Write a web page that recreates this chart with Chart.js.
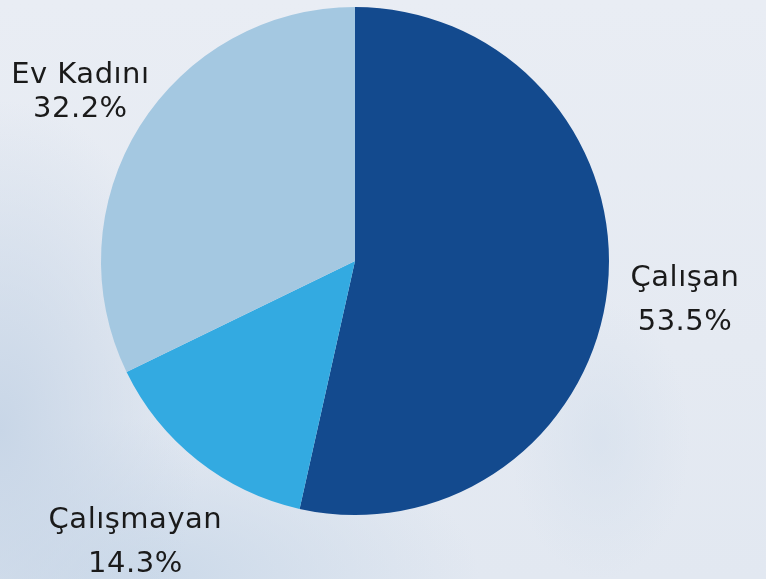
<!DOCTYPE html>
<html>
<head>
<meta charset="utf-8">
<script src="https://cdn.jsdelivr.net/npm/chart.js@4"></script>
<style>
  html, body { margin: 0; padding: 0; }
  body {
    width: 766px; height: 579px; overflow: hidden;
    background-color: #e6ebf3;
    background-image:
      radial-gradient(ellipse 200px 330px at 0px 430px, rgba(200, 214, 231, 1), rgba(200, 214, 231, 0) 100%),
      radial-gradient(ellipse 330px 160px at 150px 579px, rgba(203, 217, 233, 1), rgba(203, 217, 233, 0) 100%),
      radial-gradient(ellipse 90px 140px at 600px 440px, rgba(212, 223, 236, 0.6), rgba(212, 223, 236, 0) 100%),
      linear-gradient(180deg, #e9edf4 0%, #e5eaf2 60%, #e2e8f1 100%);
  }
  #wrap { position: absolute; left: 0; top: 0; width: 766px; height: 579px; }
</style>
</head>
<body>
<div id="wrap"><canvas id="pie" width="766" height="579"></canvas></div>
<script>
// categories and values (percent)
const categories = ['Çalışan', 'Çalışmayan', 'Ev Kadını'];
const values = [53.5, 14.3, 32.2];
const colors = ['#134a8e', '#33aae1', '#a4c8e1'];

// distance of the label block centre beyond the slice edge, and line gap
const labelDist = [78, 100, 70];
const labelGap = [44, 44, 34];

const outsideLabels = {
  id: 'outsideLabels',
  afterDatasetsDraw(chart) {
    const ctx = chart.ctx;
    const meta = chart.getDatasetMeta(0);
    const total = values.reduce((a, b) => a + b, 0);
    ctx.save();
    ctx.font = '29px "DejaVu Sans"';
    ctx.letterSpacing = '0.5px';
    ctx.fillStyle = '#1a1a1a';
    ctx.textAlign = 'center';
    ctx.textBaseline = 'alphabetic';
    meta.data.forEach((arc, i) => {
      const p = arc.getProps(['x', 'y', 'startAngle', 'endAngle', 'outerRadius'], true);
      const mid = (p.startAngle + p.endAngle) / 2;
      const r = p.outerRadius + labelDist[i];
      const cx = p.x + Math.cos(mid) * r;
      const cy = p.y + Math.sin(mid) * r;
      const b1 = cy + 11 - labelGap[i] / 2;
      ctx.fillText(categories[i], cx, b1);
      ctx.fillText((values[i] / total * 100).toFixed(1) + '%', cx, b1 + labelGap[i]);
    });
    ctx.restore();
  }
};

const pie = document.getElementById('pie').getContext('2d');

new Chart(pie, {
  type: 'pie',
  data: {
    labels: categories,
    datasets: [{
      data: values,
      backgroundColor: colors,
      borderWidth: 0
    }]
  },
  options: {
    responsive: false,
    animation: false,
    layout: { padding: { left: 101, right: 157, top: 7, bottom: 64 } },
    plugins: {
      legend: { display: false },
      tooltip: { enabled: false }
    }
  },
  plugins: [outsideLabels]
});
</script>
</body>
</html>
